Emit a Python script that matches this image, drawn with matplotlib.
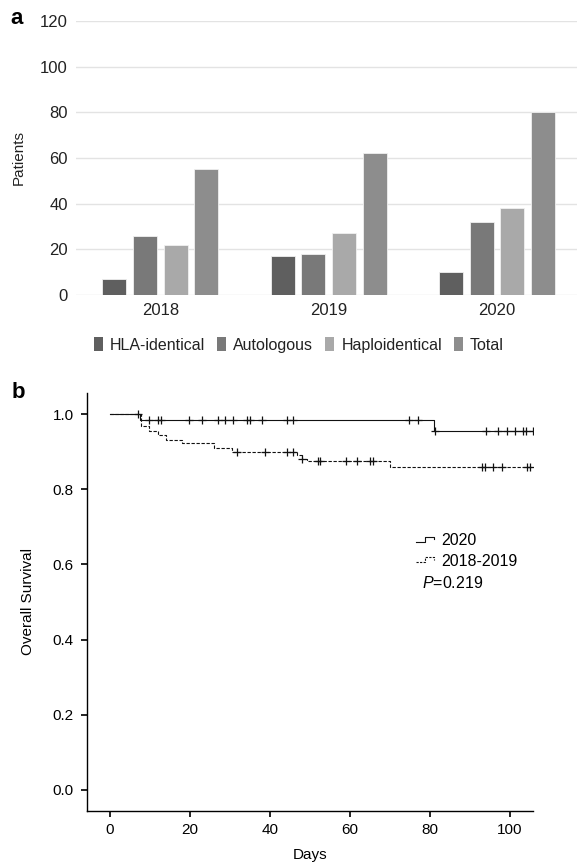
import numpy as np
import matplotlib
matplotlib.use('Agg')
import matplotlib.pyplot as plt
from matplotlib.patches import Patch
from matplotlib.lines import Line2D
from matplotlib.legend_handler import HandlerBase

plt.rcParams['font.family'] = ['Liberation Sans', 'DejaVu Sans']
plt.rcParams['mathtext.fontset'] = 'custom'
plt.rcParams['mathtext.rm'] = 'Liberation Sans'
plt.rcParams['mathtext.it'] = 'Liberation Sans:italic'

# panel a - patients per year
years = ['2018', '2019', '2020']
groups = ['HLA-identical', 'Autologous', 'Haploidentical', 'Total']
hla = [7, 17, 10]
auto = [26, 18, 32]
haplo = [22, 27, 38]
total = [55, 62, 80]
bar_colors = ['#5f5f5f', '#797979', '#a9a9a9', '#8d8d8d']

# panel b - KM curves (event days / survival after event, censor days)
km20_days = [0, 7.6, 81.0]
km20_surv = [1.0, 0.983, 0.956]
km20_cens = [6.9, 9.8, 11.9, 12.7, 19.75, 22.9, 26.9, 28.75, 30.8, 34.2, 35.0,
             37.9, 44.2, 45.7, 74.8, 77.1, 81.3, 94.0, 97.1, 99.2, 101.25,
             103.2, 104.0, 105.8]
km1819_days = [0, 7.7, 9.8, 11.9, 14.0, 17.9, 26.0, 30.4, 46.7, 47.9, 49.2, 70.0]
km1819_surv = [1.0, 0.968, 0.956, 0.945, 0.932, 0.922, 0.910, 0.898, 0.890,
               0.881, 0.874, 0.860]
km1819_cens = [31.7, 38.75, 44.2, 45.8, 48.1, 52.1, 52.5, 59.0, 61.7, 65.0, 65.8,
               92.9, 93.75, 95.8, 97.9, 104.2, 105.0]
last_day = 105.8
p_text = r'$\it{P}$=0.219'

fig = plt.figure(figsize=(5.77, 8.66), dpi=100)

# ---- a ----
ax1 = fig.add_axes([0.132, 0.6594, 0.868, 0.3164])
x = np.arange(len(years))
step = 0.182
width = 0.142
series = [hla, auto, haplo, total]
for i, vals in enumerate(series):
    ax1.bar(x + (i - 1.5) * step, vals, width, color=bar_colors[i],
            edgecolor='#f0f0f0', linewidth=0.6, label=groups[i], zorder=3)
ax1.set_xlim(-0.5, 2.475)
ax1.set_ylim(0, 120)
ax1.set_yticks([0, 20, 40, 60, 80, 100, 120])
ax1.set_xticks(x)
ax1.set_xticklabels(years)
ax1.grid(axis='y', color='#e3e3e3', linewidth=1.0, zorder=0)
for s in ax1.spines.values():
    s.set_visible(False)
ax1.tick_params(length=0, labelsize=12, labelcolor='#222222')
ax1.tick_params(axis='y', pad=6)
ax1.tick_params(axis='x', pad=6)
ax1.set_ylabel('Patients', fontsize=11, color='#222222', labelpad=10)

handles = [Patch(facecolor=c, edgecolor='none') for c in bar_colors]
fig.legend(handles, groups, loc='center', bbox_to_anchor=(299 / 577, 1 - 345 / 866),
           ncol=4, frameon=False, fontsize=11.5, handlelength=0.55, handleheight=0.9,
           handletextpad=0.45, columnspacing=0.75, labelcolor='#222222')

fig.text(10 / 577, 1 - 19 / 866, 'a', fontsize=16, fontweight='bold', va='center')
fig.text(12 / 577, 1 - 392 / 866, 'b', fontsize=16, fontweight='bold', va='center')

# ---- b ----
ax2 = fig.add_axes([0.1508, 0.0635, 0.7729, 0.4827])


def km_line(days, surv, cens, ls):
    d = list(days) + [last_day]
    s = list(surv) + [surv[-1]]
    ax2.step(d, s, where='post', color='#111111', linewidth=0.8, linestyle=ls)
    idx = np.searchsorted(days, cens, side='right') - 1
    ax2.plot(cens, np.array(surv)[idx], linestyle='none', marker='+',
             markersize=5.5, markeredgewidth=0.9, color='#111111')


km_line(km20_days, km20_surv, km20_cens, '-')
km_line(km1819_days, km1819_surv, km1819_cens, (0, (3, 1.5)))

ax2.set_xlim(-5.75, 105.75)
ax2.set_ylim(-0.056, 1.056)
ax2.set_xticks([0, 20, 40, 60, 80, 100])
ax2.set_yticks([0.0, 0.2, 0.4, 0.6, 0.8, 1.0])
ax2.set_yticklabels(['0.0', '0.2', '0.4', '0.6', '0.8', '1.0'])
ax2.spines['top'].set_visible(False)
ax2.spines['right'].set_visible(False)
for s in ['left', 'bottom']:
    ax2.spines[s].set_linewidth(1.0)
ax2.tick_params(length=4.5, width=1.3, labelsize=11, color='#111111')
ax2.tick_params(axis='y', pad=5)
ax2.tick_params(axis='x', pad=4)
ax2.set_xlabel('Days', fontsize=11, labelpad=8)
ax2.set_ylabel('Overall Survival', fontsize=11, labelpad=13)


# little step glyph for the legend
class StepHandler(HandlerBase):
    def __init__(self, ls):
        super().__init__()
        self.ls = ls

    def create_artists(self, legend, orig_handle, xdescent, ydescent, width,
                       height, fontsize, trans):
        x0 = -xdescent
        y0 = -ydescent
        xs = [x0, x0 + width * 0.45, x0 + width * 0.45, x0 + width * 0.95, x0 + width * 0.95]
        ys = [y0 + height * 0.3, y0 + height * 0.3, y0 + height * 0.75,
              y0 + height * 0.75, y0 + height * 0.55]
        ln = Line2D(xs, ys, color='#111111', linewidth=0.8, linestyle=self.ls,
                    transform=trans)
        return [ln]


h20 = Line2D([], [])
h1819 = Line2D([], [])
leg = ax2.legend([h20, h1819], ['2020', '2018-2019'],
                 handler_map={h20: StepHandler('-'), h1819: StepHandler((0, (2, 1.2)))},
                 loc='center left', bbox_to_anchor=(0.738, 0.622), frameon=False,
                 fontsize=11.5, handlelength=1.2, handletextpad=0.35,
                 labelspacing=0.35, borderaxespad=0, borderpad=0)
ax2.text(0.751, 0.545, p_text, transform=ax2.transAxes, fontsize=11.5,
         va='center', ha='left')

plt.savefig('out.png', dpi=100)
